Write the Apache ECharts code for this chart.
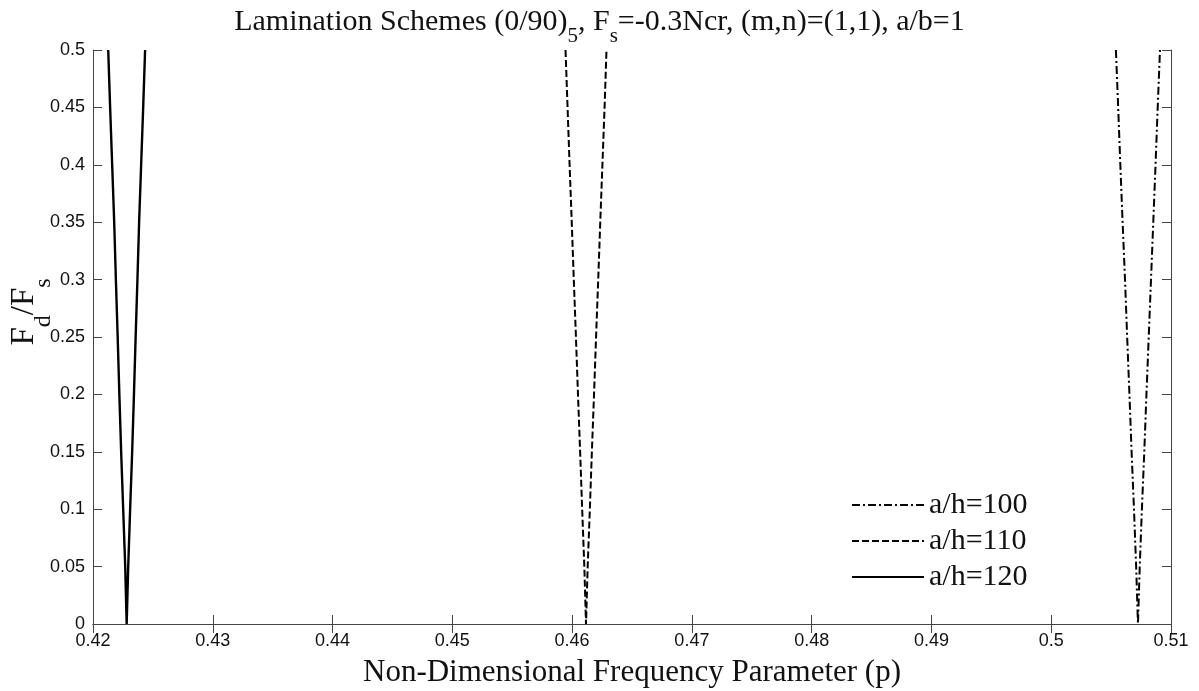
<!DOCTYPE html>
<html>
<head>
<meta charset="utf-8">
<script src="https://cdn.jsdelivr.net/npm/echarts@6/dist/echarts.min.js"></script>
<style>
  html, body { margin: 0; padding: 0; background: #fff; }
  #chart { width: 1199px; height: 691px; }
</style>
</head>
<body>
<div id="chart"></div>
<script>
// F_d/F_s levels, read top to bottom (left branch), reused bottom to top for right branch
const fdfs = [0.5, 0.45, 0.4, 0.35, 0.3, 0.25, 0.2, 0.15, 0.1, 0.05, 0];

// a/h=100 (dash-dot)
const left100  = [0.50540, 0.50559, 0.50577, 0.50596, 0.50616, 0.50634, 0.50653, 0.50671, 0.50691, 0.50709, 0.50724];
const right100 = [0.50908, 0.50889, 0.50871, 0.50852, 0.50833, 0.50814, 0.50795, 0.50777, 0.50757, 0.50739, 0.50724];
// a/h=110 (dashed)
const left110  = [0.45945, 0.45962, 0.45979, 0.45997, 0.46014, 0.46032, 0.46049, 0.46067, 0.46084, 0.46102, 0.46116];
const right110 = [0.46287, 0.46271, 0.46253, 0.46235, 0.46218, 0.46200, 0.46183, 0.46165, 0.46148, 0.46130, 0.46116];
// a/h=120 (solid)
const left120  = [0.42127, 0.42143, 0.42160, 0.42177, 0.42191, 0.42206, 0.42220, 0.42235, 0.42252, 0.42269, 0.42281];
const right120 = [0.42435, 0.42419, 0.42402, 0.42385, 0.42371, 0.42356, 0.42342, 0.42327, 0.42310, 0.42294, 0.42281];

const names = ["a/h=100", "a/h=110", "a/h=120"];

// go down the left branch, then back up the right one
function vShape(left, right) {
    const pts = [];
    for (let i = 0; i < fdfs.length; i++) pts.push([left[i], fdfs[i]]);
    for (let i = fdfs.length - 1; i >= 0; i--) pts.push([right[i], fdfs[i]]);
    return pts;
}

const serif = "'Liberation Serif', 'DejaVu Serif', serif";
const sans = "'Liberation Sans', Arial, sans-serif";
const frame = "#444";

const chart = echarts.init(document.getElementById("chart"), null, { renderer: "canvas" });

const hiddenAxis = {
    axisLine: { show: true, lineStyle: { color: frame, width: 1 } },
    axisTick: { show: true, inside: true, length: 9, lineStyle: { color: frame } },
    axisLabel: { show: false },
    splitLine: { show: false }
};

// subscripts: normal text hangs from the top of the line, subscript sits on its bottom
function richSub(big, small, lh) {
    return {
        n: { fontSize: big, fontFamily: serif, fontWeight: "normal", color: "#111", lineHeight: lh, verticalAlign: "top" },
        sub: { fontSize: small, fontFamily: serif, fontWeight: "normal", color: "#111", lineHeight: lh, verticalAlign: "bottom" }
    };
}

chart.setOption({
    animation: false,
    title: {
        text: "{n|Lamination Schemes (0/90)}{sub|5}{n|, F}{sub|s}{n|=-0.3Ncr, (m,n)=(1,1), a/b=1}",
        left: "center",
        top: 2,
        textStyle: { fontWeight: "normal", rich: richSub(30, 21, 40) }
    },
    grid: { left: 93, right: 28, top: 50, bottom: 67, outerBoundsMode: "none", containLabel: false },
    legend: {
        orient: "vertical",
        left: 846,
        top: 485,
        itemWidth: 72,
        itemHeight: 14,
        itemGap: 6,
        data: names,
        itemStyle: { opacity: 0 },
        textStyle: { fontFamily: serif, fontSize: 30, color: "#111", lineHeight: 30 }
    },
    xAxis: [
        {
            type: "value", min: 0.42, max: 0.51, interval: 0.01,
            name: "Non-Dimensional Frequency Parameter (p)",
            nameLocation: "middle", nameGap: 33,
            nameTextStyle: { fontFamily: serif, fontSize: 31, color: "#111" },
            axisLine: { show: true, lineStyle: { color: frame, width: 1 } },
            axisTick: { show: true, inside: true, length: 9, lineStyle: { color: frame } },
            axisLabel: { fontFamily: sans, fontSize: 18, color: "#111", margin: 8, formatter: v => String(+v.toFixed(2)) },
            splitLine: { show: false }
        },
        Object.assign({ type: "value", position: "top", min: 0.42, max: 0.51, interval: 0.01 }, hiddenAxis)
    ],
    yAxis: [
        {
            type: "value", min: 0, max: 0.5, interval: 0.05,
            name: "{n|F}{sub|d}{n|/F}{sub|s}",
            nameLocation: "middle", nameGap: 37, nameRotate: 90, nameMoveOverlap: false,
            nameTextStyle: { padding: [0, 0, 0, 50], rich: richSub(33, 24, 48) },
            axisLine: { show: true, lineStyle: { color: frame, width: 1 } },
            axisTick: { show: true, inside: true, length: 9, lineStyle: { color: frame } },
            axisLabel: { fontFamily: sans, fontSize: 18, color: "#111", margin: 8, formatter: v => String(+v.toFixed(2)) },
            splitLine: { show: false }
        },
        Object.assign({ type: "value", position: "right", min: 0, max: 0.5, interval: 0.05 }, hiddenAxis)
    ],
    series: [
        {
            name: names[0], type: "line", data: vShape(left100, right100),
            symbol: "none", color: "#000",
            lineStyle: { color: "#000", width: 2, type: [8, 3, 2, 3] }
        },
        {
            name: names[1], type: "line", data: vShape(left110, right110),
            symbol: "none", color: "#000",
            lineStyle: { color: "#000", width: 2, type: [7, 3] }
        },
        {
            name: names[2], type: "line", data: vShape(left120, right120),
            symbol: "none", color: "#000",
            lineStyle: { color: "#000", width: 2.4, type: "solid" }
        }
    ]
});
</script>
</body>
</html>
